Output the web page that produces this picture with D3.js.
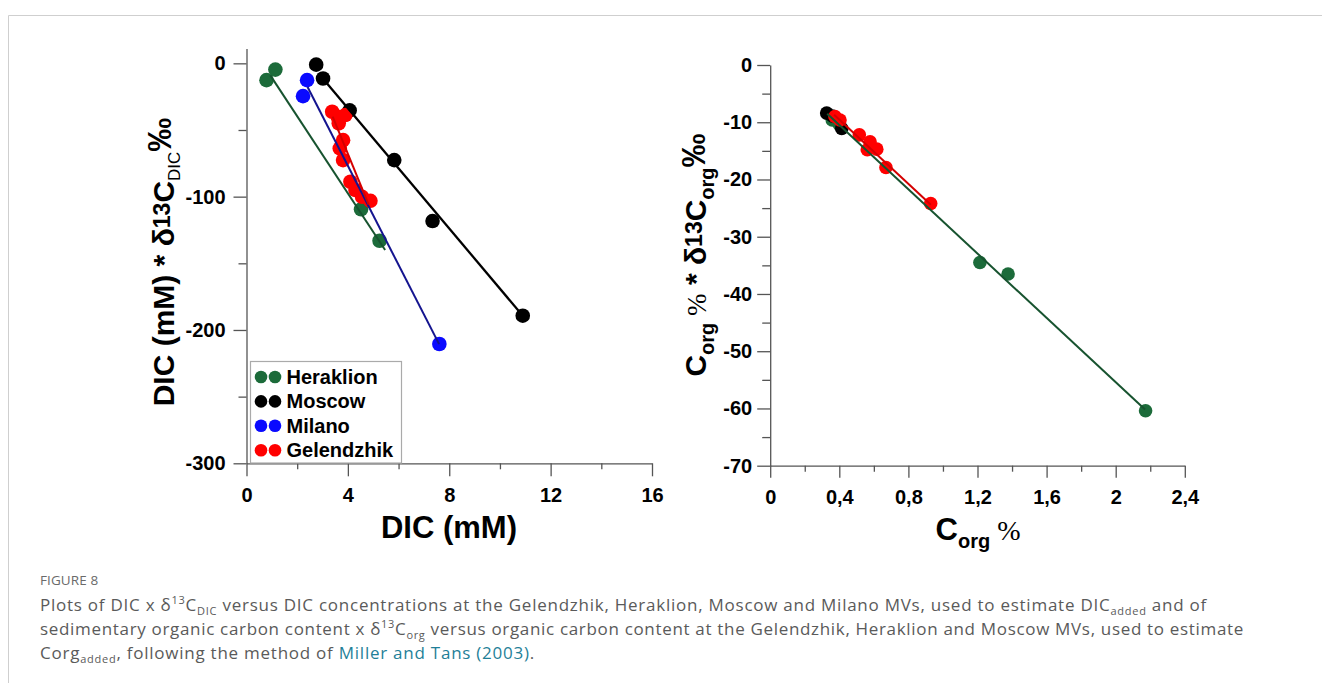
<!DOCTYPE html>
<html><head><meta charset="utf-8">
<script src="https://cdn.jsdelivr.net/npm/d3@7"></script>
<style>
body{margin:0;background:#fff;}
#wrap{position:relative;width:1322px;height:683px;overflow:hidden;background:#fff;}
svg{position:absolute;left:0;top:0;}
.cap{position:absolute;left:40px;font-family:"Open Sans",sans-serif;color:#5a5a5a;white-space:nowrap;}
.fig{top:571px;font-size:13.5px;color:#6a6a6a;letter-spacing:0.1px;}
.line{font-size:17px;line-height:24px;}
.cap sub,.cap sup{font-size:11px;line-height:0;}
.cap a{color:#1f7f98;text-decoration:none;}
.axis text{font-family:"Liberation Sans",Arial,sans-serif;font-weight:bold;font-size:20px;fill:#000;}
.axis path,.axis line{stroke:#555;stroke-width:1.3;}
</style></head>
<body><div id="wrap"></div>
<script>
// ---------- DATA: left panel (DIC, DIC x d13C) ----------
const leftSeries = ["Heraklion","Moscow","Milano","Gelendzhik"];
const heraklionDIC = [[0.79,-12.6],[1.14,-4.7],[4.52,-109.5],[5.25,-133.1]];
const moscowDIC = [[2.75,-1],[3.02,-11.4],[4.07,-35.3],[5.83,-72.6],[7.34,-118.3],[10.90,-189.3]];
const milanoDIC = [[2.39,-12.6],[2.23,-24.6],[7.61,-210.5]];
const gelendzhikDIC = [[3.38,-36.3],[3.60,-40.1],[3.90,-38.8],[3.64,-45.0],[3.81,-57.6],[3.68,-63.8],
  [3.81,-72.6],[4.10,-88.8],[4.30,-95.0],[4.56,-100.1],[4.89,-103.1]];
// fitted lines (end points)
const heraklionFitDIC = [[0.94,-9],[5.47,-140]];
const moscowFitDIC = [[3.02,-11.5],[11.05,-192.7]];
const milanoFitDIC = [[2.41,-17.8],[7.60,-210.6]];
const gelendzhikFitDIC = [[3.40,-40],[4.82,-106]];
const leftXTicks = [0,4,8,12,16], leftXMinor = [2,6,10,14];
const leftYTicks = [-300,-200,-100,0], leftYMinor = [-250,-150,-50];

// ---------- DATA: right panel (Corg, Corg x d13C) ----------
const heraklionOrg = [[0.359,-9.6],[0.40,-10.4],[1.214,-34.5],[1.377,-36.5],[2.173,-60.4]];
const moscowOrg = [[0.327,-8.4],[0.36,-8.9],[0.414,-11.1]];
const gelendzhikOrg = [[0.375,-9.0],[0.404,-9.6],[0.516,-12.2],[0.578,-13.4],[0.562,-14.8],
  [0.617,-14.7],[0.670,-17.9],[0.929,-24.2]];
const heraklionFitOrg = [[0.33,-8.5],[2.17,-60.2]];
const gelendzhikFitOrg = [[0.37,-8.7],[0.93,-24.4]];
const rightXTicks = [0,0.4,0.8,1.2,1.6,2,2.4], rightXMinor = [0.2,0.6,1.0,1.4,1.8,2.2];
const rightYTicks = [-70,-60,-50,-40,-30,-20,-10,0], rightYMinor = [-65,-55,-45,-35,-25,-15,-5];

const colors = {Heraklion:"#1c6b3a",Moscow:"#000000",Milano:"#0a0aff",Gelendzhik:"#ff0000"};
const lineColors = {Heraklion:"#17532f",Moscow:"#000000",Milano:"#14148f",Gelendzhik:"#d40000"};

const svg = d3.select("#wrap").append("svg").attr("width",1322).attr("height",683);
// frame lines
svg.append("line").attr("x1",8.5).attr("x2",1322).attr("y1",15.5).attr("y2",15.5).attr("stroke","#cfcfcf");
svg.append("line").attr("x1",8.5).attr("x2",8.5).attr("y1",15.5).attr("y2",683).attr("stroke","#cfcfcf");

const intFmt = d => String(d);   // plain hyphen minus, as in the figure

// ---------- LEFT PANEL ----------
const xL = d3.scaleLinear().domain([0,16]).range([246.5,652]);
const yL = d3.scaleLinear().domain([-300,11.2]).range([463.3,48.4]);
const gL = svg.append("g");
gL.append("g").attr("class","axis").attr("transform","translate(0,463.3)")
  .call(d3.axisBottom(xL).tickValues(leftXTicks).tickSize(13).tickSizeOuter(0).tickPadding(12).tickFormat(intFmt));
gL.append("g").attr("class","axis").attr("transform","translate(0,463.3)")
  .call(d3.axisBottom(xL).tickValues(leftXMinor).tickSize(6).tickSizeOuter(0).tickFormat(""))
  .select(".domain").remove();
gL.append("g").attr("class","axis").attr("transform","translate(246.5,0)")
  .call(d3.axisLeft(yL).tickValues(leftYTicks).tickSize(13).tickSizeOuter(0).tickPadding(8).tickFormat(intFmt));
gL.append("g").attr("class","axis").attr("transform","translate(246.5,0)")
  .call(d3.axisLeft(yL).tickValues(leftYMinor).tickSize(8).tickSizeOuter(0).tickFormat(""))
  .select(".domain").remove();

const leftPts = {Heraklion:heraklionDIC,Moscow:moscowDIC,Milano:milanoDIC,Gelendzhik:gelendzhikDIC};
const leftFits = {Heraklion:heraklionFitDIC,Moscow:moscowFitDIC,Milano:milanoFitDIC,Gelendzhik:gelendzhikFitDIC};
leftSeries.forEach(s=>{
  gL.append("g").selectAll("circle").data(leftPts[s]).join("circle")
    .attr("cx",d=>xL(d[0])).attr("cy",d=>yL(d[1])).attr("r",7.3).attr("fill",colors[s]);
});
const lineL = d3.line().x(d=>xL(d[0])).y(d=>yL(d[1]));
leftSeries.forEach(s=>{
  gL.append("path").attr("d",lineL(leftFits[s])).attr("fill","none")
    .attr("stroke",lineColors[s]).attr("stroke-width",s==="Moscow"?2.3:2);
});

// legend
const leg = gL.append("g");
leg.append("rect").attr("x",250.5).attr("y",361.5).attr("width",151).attr("height",101.5)
  .attr("fill","#fff").attr("stroke","#aaa").attr("stroke-width",1.2);
leftSeries.forEach((s,i)=>{
  const cy = 377 + i*24.4;
  [261,275].forEach(cx=>leg.append("circle").attr("cx",cx).attr("cy",cy).attr("r",6.3).attr("fill",colors[s]));
  leg.append("text").attr("x",286.5).attr("y",cy+7).text(s)
    .attr("font-family","Liberation Sans, Arial, sans-serif").attr("font-weight","bold").attr("font-size",20);
});

// left axis titles
gL.append("text").attr("x",449).attr("y",538).attr("text-anchor","middle")
  .attr("font-family","Liberation Sans, Arial, sans-serif").attr("font-weight","bold").attr("font-size",31)
  .text("DIC (mM)");
const ytL = gL.append("text").attr("transform","translate(174,262) rotate(-90)").attr("text-anchor","middle")
  .attr("font-family","Liberation Sans, Arial, sans-serif").attr("font-weight","bold").attr("font-size",30);
ytL.append("tspan").text("DIC (mM) * δ");
ytL.append("tspan").attr("font-size",23).attr("dy",-4).text("13");
ytL.append("tspan").attr("dy",4).text("C");
ytL.append("tspan").attr("font-size",17).attr("font-weight","normal").attr("dy",6).text("DIC");
ytL.append("tspan").attr("font-size",34).attr("dy",-9).text("‰");

// ---------- RIGHT PANEL ----------
const xR = d3.scaleLinear().domain([0,2.4]).range([770.2,1184.8]);
const yR = d3.scaleLinear().domain([-70,0]).range([465.7,65]);
const gR = svg.append("g");
const fmtR = d=> String(+d.toFixed(1)).replace(".",",");
gR.append("g").attr("class","axis").attr("transform","translate(0,465.7)")
  .call(d3.axisBottom(xR).tickValues(rightXTicks).tickSize(12).tickSizeOuter(0).tickPadding(12).tickFormat(fmtR));
gR.append("g").attr("class","axis").attr("transform","translate(0,465.7)")
  .call(d3.axisBottom(xR).tickValues(rightXMinor).tickSize(6).tickSizeOuter(0).tickFormat(""))
  .select(".domain").remove();
gR.append("g").attr("class","axis").attr("transform","translate(770.2,0)")
  .call(d3.axisLeft(yR).tickValues(rightYTicks).tickSize(13).tickSizeOuter(0).tickPadding(5).tickFormat(intFmt));
gR.append("g").attr("class","axis").attr("transform","translate(770.2,0)")
  .call(d3.axisLeft(yR).tickValues(rightYMinor).tickSize(8).tickSizeOuter(0).tickFormat(""))
  .select(".domain").remove();

const rightPts = [["Heraklion",heraklionOrg],["Moscow",moscowOrg],["Gelendzhik",gelendzhikOrg]];
rightPts.forEach(([s,arr])=>{
  gR.append("g").selectAll("circle").data(arr).join("circle")
    .attr("cx",d=>xR(d[0])).attr("cy",d=>yR(d[1])).attr("r",6.8).attr("fill",colors[s]);
});
const lineR = d3.line().x(d=>xR(d[0])).y(d=>yR(d[1]));
[["Heraklion",heraklionFitOrg],["Gelendzhik",gelendzhikFitOrg]].forEach(([s,arr])=>{
  gR.append("path").attr("d",lineR(arr)).attr("fill","none").attr("stroke",lineColors[s]).attr("stroke-width",2);
});

// right x title
const xtR = gR.append("text").attr("x",978).attr("y",540).attr("text-anchor","middle")
  .attr("font-family","Liberation Sans, Arial, sans-serif").attr("font-weight","bold").attr("font-size",31);
xtR.append("tspan").text("C");
xtR.append("tspan").attr("font-size",20).attr("dy",8).text("org");
xtR.append("tspan").attr("font-family","Liberation Serif, serif").attr("font-weight","normal").attr("font-size",28).attr("dy",-8).text(" %");
// right y title
const ytR = gR.append("text").attr("transform","translate(706,255) rotate(-90)").attr("text-anchor","middle")
  .attr("font-family","Liberation Sans, Arial, sans-serif").attr("font-weight","bold").attr("font-size",30);
ytR.append("tspan").text("C");
ytR.append("tspan").attr("font-size",20).attr("dy",8).text("org");
ytR.append("tspan").attr("font-family","Liberation Serif, serif").attr("font-weight","normal").attr("font-size",27).attr("dy",-8).text(" %");
ytR.append("tspan").text(" * δ");
ytR.append("tspan").attr("font-size",23).attr("dy",-4).text("13");
ytR.append("tspan").attr("dy",4).text("C");
ytR.append("tspan").attr("font-size",20).attr("dy",8).text("org");
ytR.append("tspan").attr("font-size",34).attr("dy",-9).text("‰");

// ---------- CAPTION ----------
const wrap = d3.select("#wrap");
wrap.append("div").attr("class","cap fig").text("FIGURE 8");
const capLines = [
  'Plots of DIC x δ<sup>13</sup>C<sub>DIC</sub> versus DIC concentrations at the Gelendzhik, Heraklion, Moscow and Milano MVs, used to estimate DIC<sub>added</sub> and of',
  'sedimentary organic carbon content x δ<sup>13</sup>C<sub>org</sub> versus organic carbon content at the Gelendzhik, Heraklion and Moscow MVs, used to estimate',
  'Corg<sub>added</sub>, following the method of <a>Miller and Tans (2003)</a>.'
];
const capTops = [593,617,641];
const capWidths = [1167,1204,495];
capLines.forEach((h,i)=>{
  const el = wrap.append("div").attr("class","cap line").style("top",capTops[i]+"px").html(h);
  const node = el.node(); const w = node.getBoundingClientRect().width;
  const n = node.textContent.length;
  el.style("letter-spacing",((capWidths[i]-w)/n)+"px");
});
</script></body></html>
